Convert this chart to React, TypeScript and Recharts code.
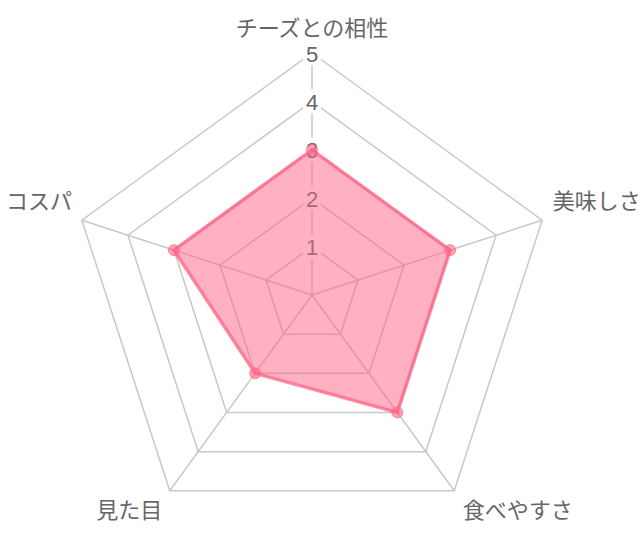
import React from "react";
import { RadarChart, Radar, PolarGrid, PolarAngleAxis, PolarRadiusAxis } from "recharts";

const categories = ["チーズとの相性", "美味しさ", "食べやすさ", "見た目", "コスパ"];
const scores = [3, 3, 3, 2, 3];
const radiusTicks = [0, 1, 2, 3, 4, 5];

const data = categories.map((c, i) => ({ subject: c, score: scores[i] }));

const FONT = "'Noto Sans CJK JP', 'Liberation Sans', sans-serif";
const TEXT = "#666";

const AngleTick = (props: any) => {
  const { x, y, payload, cx, cy } = props;
  const dx = x - cx;
  const dy = y - cy;
  let anchor: "start" | "middle" | "end" = "middle";
  let tx = x;
  if (dx > 20) {
    anchor = "start";
    tx = x + 5;
  } else if (dx < -20) {
    anchor = "end";
    tx = x - 4;
  }
  let ty = y;
  if (dy < -150) ty = y - 21; // top
  else if (dy < 0) ty = y - 19; // upper sides
  else ty = y + 12; // bottom
  return (
    <text
      x={tx}
      y={ty}
      textAnchor={anchor}
      dominantBaseline="central"
      fill={TEXT}
      fontSize={22}
      fontFamily={FONT}
    >
      {payload.value}
    </text>
  );
};

const RadiusTick = (props: any) => {
  const { x, y, payload } = props;
  if (payload.value === 0) return null;
  return (
    <g>
      <rect x={x - 9} y={y - 12} width={18} height={24} fill="#fff" />
      <text
        x={x}
        y={y + 1}
        textAnchor="middle"
        dominantBaseline="central"
        fill={TEXT}
        fontSize={22}
        fontFamily="'Liberation Sans', Arial, sans-serif"
      >
        {payload.value}
      </text>
    </g>
  );
};

export default function App() {
  return (
    <div style={{ position: "absolute", left: 0, top: 0, width: 640, height: 551, background: "#fff" }}>
      <RadarChart
        width={640}
        height={551}
        data={data}
        cx={312}
        cy={295}
        outerRadius={242}
        margin={{ top: 0, right: 0, bottom: 0, left: 0 }}
      >
        <PolarGrid gridType="polygon" stroke="#c8c8c8" strokeWidth={1.5} />
        <PolarAngleAxis dataKey="subject" tick={<AngleTick cx={312} cy={295} />} tickLine={false} axisLine={false} tickSize={6} />
        <PolarRadiusAxis
          angle={90}
          domain={[0, 5]}
          ticks={radiusTicks as any}
          tickCount={6}
          axisLine={false}
          tick={<RadiusTick />}
          {...({ zIndex: 50 } as any)}
        />
        <Radar
          dataKey="score"
          stroke="rgba(255, 99, 132, 0.75)"
          strokeWidth={3.5}
          fill="rgba(255, 99, 132, 0.5)"
          fillOpacity={1}
          dot={{ r: 5.5, fill: "rgba(255, 99, 132, 0.6)", stroke: "rgba(255, 99, 132, 0.7)", strokeWidth: 1 }}
          isAnimationActive={false}
          {...({ zIndex: 600 } as any)}
        />
      </RadarChart>
    </div>
  );
}
